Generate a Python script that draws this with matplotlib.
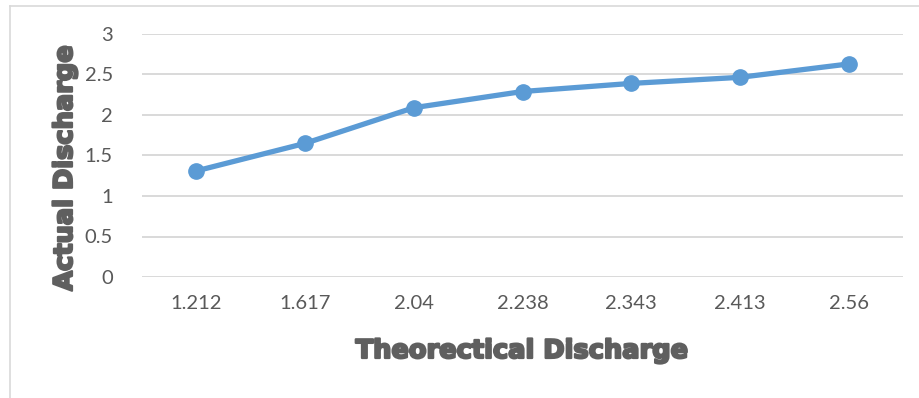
import matplotlib
matplotlib.use("Agg")
import matplotlib.pyplot as plt
from matplotlib.lines import Line2D
import matplotlib.patheffects as pe

# Discharge measurements
theoretical = ["1.212", "1.617", "2.04", "2.238", "2.343", "2.413", "2.56"]
actual = [1.31, 1.65, 2.09, 2.29, 2.39, 2.465, 2.63]
y_ticks = [0, 0.5, 1, 1.5, 2, 2.5, 3]
y_tick_labels = ["0", "0.5", "1", "1.5", "2", "2.5", "3"]

W, H = 919, 398
fig = plt.figure(figsize=(W / 100, H / 100), dpi=100)
fig.patch.set_facecolor("white")

ax = fig.add_axes([142 / W, 1 - 277 / H, (903 - 142) / W, (277 - 34) / H])
x = list(range(len(theoretical)))
ax.plot(x, actual, color="#5B9BD5", linewidth=3.8, marker="o",
        markersize=11, solid_capstyle="round", zorder=3)

ax.set_xlim(-0.5, len(theoretical) - 0.5)
ax.set_ylim(0, 3)
ax.set_yticks(y_ticks)
ax.set_yticklabels(y_tick_labels)
ax.set_xticks(x)
ax.set_xticklabels(theoretical)
ax.grid(axis="y", color="#D9D9D9", linewidth=1.4, zorder=0)
ax.set_axisbelow(True)
for s in ax.spines.values():
    s.set_visible(False)
ax.tick_params(length=0, labelsize=14.5, labelcolor="#595959")
ax.tick_params(axis="y", pad=21)
ax.tick_params(axis="x", pad=13)
for lbl in ax.get_xticklabels() + ax.get_yticklabels():
    lbl.set_fontfamily("Lato")

# heavy axis titles: bold face thickened with a same-colour outline
title_kw = dict(fontsize=18.5, fontweight="bold", color="#5f5f5f",
                family="DejaVu Sans",
                path_effects=[pe.withStroke(linewidth=1.6, foreground="#5f5f5f")])
fig.text(522 / W, 1 - 351 / H, "Theorectical Discharge", ha="center",
         va="center", **title_kw)
fig.text(65 / W, 1 - 168 / H, "Actual Discharge", ha="center", va="center",
         rotation=90, **title_kw)

# chart area frame (top and left edges)
fig.add_artist(Line2D([10 / W, 10 / W], [0, 1 - 6 / H], transform=fig.transFigure,
                      color="#D9D9D9", linewidth=1.2))
fig.add_artist(Line2D([10 / W, 1], [1 - 6 / H, 1 - 6 / H], transform=fig.transFigure,
                      color="#D9D9D9", linewidth=1.2))

fig.savefig("out.png", dpi=100, facecolor="white")
